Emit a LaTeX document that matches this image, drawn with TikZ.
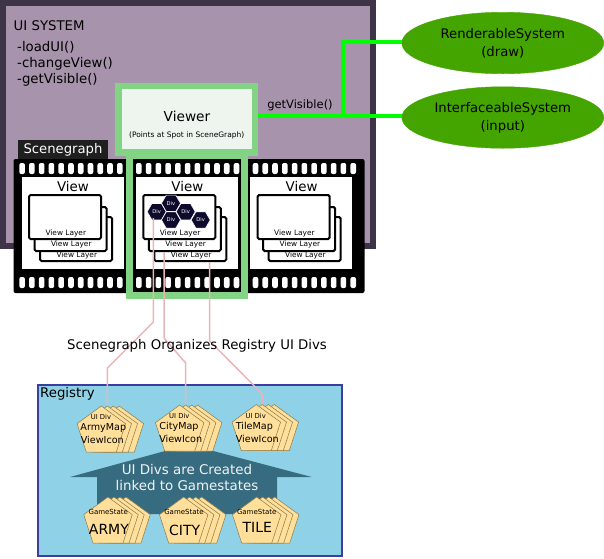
\documentclass[tikz,border=0pt]{standalone}
\usepackage{fontspec}
\setmainfont{DejaVu Sans}
\usetikzlibrary{shapes.geometric}
\newcommand{\pxfont}[1]{\fontsize{#1}{#1}\selectfont}
\definecolor{systemdark}{HTML}{3E3448}
\definecolor{systemfill}{HTML}{A793AB}
\definecolor{viewergreen}{HTML}{83D384}
\definecolor{viewerfill}{HTML}{EEF5EE}
\definecolor{wiregreen}{HTML}{00FF00}
\definecolor{ellipsegreen}{HTML}{44A500}
\definecolor{linkpink}{HTML}{EAB5B8}
\definecolor{registryfill}{HTML}{8FD2E8}
\definecolor{registryedge}{HTML}{3A3F9F}
\definecolor{arrowteal}{HTML}{376C80}
\definecolor{petalfill}{HTML}{FFDF99}
\definecolor{petaledge}{HTML}{8A7A4A}
\definecolor{divnavy}{HTML}{0D0A2B}
\tikzset{
	label text/.style={inner sep=0pt, align=center},
	system/.style={
		draw=ellipsegreen,
		fill=ellipsegreen,
		ellipse,
		inner sep=0pt,
		minimum width=202pt,
		minimum height=61.5pt
	},
	hole/.style={
		fill=white,
		rounded corners=2pt,
		inner sep=0pt,
		minimum width=5.6pt,
		minimum height=11pt
	},
	viewlayer/.style={
		draw=black,
		fill=white,
		line width=2pt,
		rounded corners=1.5pt,
		minimum width=72pt,
		minimum height=44pt
	},
	hexdiv/.style={
		regular polygon,
		regular polygon sides=6,
		draw=white,
		fill=divnavy,
		line width=0.6pt,
		inner sep=0pt,
		minimum size=19pt,
		text=white,
		font=\pxfont{5.2}
	},
	petal/.style={
		regular polygon,
		regular polygon sides=5,
		draw=petaledge,
		fill=petalfill,
		line width=0.5pt,
		inner sep=0pt,
		minimum size=51pt
	},
	wire/.style={wiregreen, line width=4pt},
	divlink/.style={linkpink, line width=1.5pt, line join=round}
}

\begin{document}
\begin{tikzpicture}[x=1pt, y=-1pt]
	\useasboundingbox (0,0) rectangle (604,558);

	% ui system box
	\node[draw=systemdark, fill=systemfill, line width=6.5pt, minimum width=370pt, minimum height=243pt, inner sep=0pt] (uisystem) at (188,124.5) {};
	\node[label text, anchor=west, font=\pxfont{13.3}] (uititle) at (13.5,26) {UI SYSTEM};
	\node[label text, anchor=west, font=\pxfont{13.3}] (loadui) at (17,47) {-loadUI()};
	\node[label text, anchor=west, font=\pxfont{13.3}] (changeview) at (17,63.5) {-changeView()};
	\node[label text, anchor=west, font=\pxfont{13.3}] (getvisible) at (17,80) {-getVisible()};
	\node[fill=black!88, text=white, inner sep=0pt, minimum width=90pt, minimum height=20pt, font=\pxfont{13.2}] (scenegraph) at (63,150) {Scenegraph};

	% film strip
	\node[fill=black, rounded corners=2pt, inner sep=0pt, minimum width=351pt, minimum height=134pt] (film) at (189,226) {};
	\foreach \k in {0,1,2} {
		\foreach \i in {0,...,10} {
			\node[hole] (holetop-\k-\i) at ({22.1+116.7*\k+9.77*\i},168.5) {};
			\node[hole] (holebot-\k-\i) at ({22.1+116.7*\k+9.77*\i},282.5) {};
		}
		\node[fill=white, inner sep=0pt, minimum width=102.5pt, minimum height=92pt] (window-\k) at ({73+114*\k},223) {};
		\node[label text, font=\pxfont{13.4}] (view-\k) at ({73+114.3*\k},186) {View};
		% stacked layers
		\foreach \i/\laby in {3/255,2/244.5,1/233} {
			\pgfmathsetmacro{\lx}{65+114.3*\k+5.5*(\i-1)}
			\pgfmathsetmacro{\ly}{217+(\i>1)*12+(\i>2)*10}
			\node[viewlayer] (layer-\k-\i) at (\lx,\ly) {};
			\node[label text, font=\pxfont{7.4}] (layertext-\k-\i) at ({\lx+0.8},\laby) {View Layer};
		}
	}

	% viewer
	\node[draw=viewergreen, line width=7pt, minimum width=115pt, minimum height=139.5pt, inner sep=0pt] (viewframe) at (187,225.7) {};
	\node[draw=viewergreen, fill=viewerfill, line width=6.5pt, minimum width=136.5pt, minimum height=66.5pt, inner sep=0pt] (viewer) at (186.7,119.3) {};
	\node[label text, font=\pxfont{13.7}] (viewertext) at (187,116) {Viewer};
	\node[label text, font=\pxfont{7.5}] (viewernote) at (186.7,135) {(Points at Spot in SceneGraph)};

	% divs in the front layer
	\foreach \n/\dx/\dy in {1/156.7/211.7, 2/171/203.3, 3/185.7/211.7, 4/171/220, 5/200.7/220} {
		\node[hexdiv] (div\n) at (\dx,\dy) {Div};
	}

	% systems on the right
	\node[system, align=center, font=\pxfont{13.2}] (render) at (502.8,43) {RenderableSystem\\[5pt](draw)};
	\node[system, align=center, font=\pxfont{13.2}] (interface) at (502.8,117.5) {InterfaceableSystem\\[5pt](input)};
	\coordinate (split) at (343,116);
	\draw[wire] (viewer.east |- split) -- (interface.west |- split);
	\draw[wire] (split) |- (render.west |- 0,42);
	\node[label text, font=\pxfont{11.5}] (getvisiblewire) at (300,105) {getVisible()};

	% registry
	\node[draw=registryedge, fill=registryfill, line width=2pt, minimum width=304pt, minimum height=171pt, inner sep=0pt] (registry) at (189.7,470.4) {};
	\node[label text, anchor=west, font=\pxfont{13.3}] (registrytitle) at (40,394) {Registry};

	\draw[fill=arrowteal, draw=none] (165,451) -- (213.3,451) -- (311.7,477) -- (277,477) -- (277,514) -- (97,514) -- (97,477) -- (70,477) -- cycle;
	\node[label text, text=white!92!arrowteal, font=\pxfont{13.4}] (createdline1) at (187,469) {UI Divs are Created};
	\node[label text, text=white!92!arrowteal, font=\pxfont{13.4}] (createdline2) at (187,485.5) {linked to Gamestates};

	% pentagon stacks
	\foreach \name/\x/\y in {armymap/77.3/406, citymap/155.7/405, tilemap/232.3/404.5, army/84/497, city/159.7/497, tile/232.7/497} {
		\foreach \i in {4,3,2,1} {
			\node[petal] (\name-\i) at ({\x+24+6*(\i-1)},{\y+25.5}) {};
		}
	}
	\foreach \name/\x/\y in {armymap/101/417, citymap/179.3/416, tilemap/255.7/416} {
		\node[label text, font=\pxfont{6.8}] (\name-top) at (\x,\y) {UI Div};
	}
	\node[label text, font=\pxfont{9.6}] (armymap-a) at (103.3,428) {ArmyMap};
	\node[label text, font=\pxfont{9.6}] (armymap-b) at (102.3,440) {ViewIcon};
	\node[label text, font=\pxfont{9.6}] (citymap-a) at (179,427.3) {CityMap};
	\node[label text, font=\pxfont{9.6}] (citymap-b) at (180.7,439) {ViewIcon};
	\node[label text, font=\pxfont{9.6}] (tilemap-a) at (254.3,427.3) {TileMap};
	\node[label text, font=\pxfont{9.6}] (tilemap-b) at (257.3,439) {ViewIcon};
	\foreach \name/\x/\word/\wy in {army/108.3/ARMY/529, city/184/CITY/530.7, tile/256.7/TILE/527} {
		\node[label text, font=\pxfont{7}] (\name-top) at (\x,511.7) {GameState};
		\node[label text, font=\pxfont{14}] (\name-word) at ({\x+0.6},\wy) {\word};
	}

	% links from the scenegraph to the registry
	\coordinate (armytap) at (153.3,218);
	\coordinate (citytap) at (164,252);
	\coordinate (tiletap) at (209.7,262);
	\draw[divlink] (armytap) -- (153.3,322) -- (107.3,368) -- (armymap-2.north);
	\draw[divlink] (citytap) -- (164,338) -- (185.7,363) -- (citymap-2.north);
	\draw[divlink] (tiletap) -- (209.7,341) -- (262.3,394) -- (tilemap-2.north);

	\node[label text, font=\pxfont{13.3}] (organizes) at (197,345.5) {Scenegraph Organizes Registry UI Divs};
\end{tikzpicture}
\end{document}
